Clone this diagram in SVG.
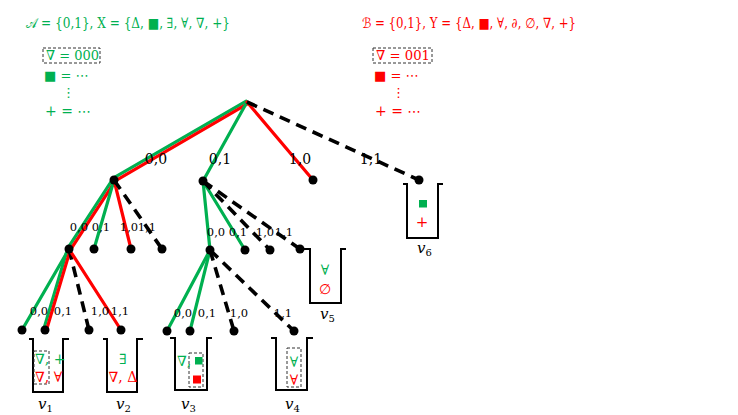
<svg xmlns="http://www.w3.org/2000/svg" width="738" height="415" viewBox="0 0 738 415">
<style>
.g{stroke:#00B050;stroke-width:3.2;fill:none;stroke-linecap:round}
.r{stroke:#FF0000;stroke-width:3.2;fill:none;stroke-linecap:round}
.d{stroke:#000;stroke-width:3.6;fill:none;stroke-dasharray:11 7}
.n{fill:#000}
.b{stroke:#000;stroke-width:2;fill:none}
.lab{font-family:"DejaVu Serif","Liberation Serif",serif;fill:#000;text-anchor:middle}
.l1{font-size:14px}
.l2{font-size:11.5px}
.gt{fill:#00B050;font-family:"DejaVu Serif","Liberation Serif","DejaVu Sans",serif}
.rt{fill:#FF0000;font-family:"DejaVu Serif","Liberation Serif","DejaVu Sans",serif}
.box{stroke:#333;stroke-width:1;stroke-dasharray:3 2;fill:none}
.v{font-family:"DejaVu Serif","Liberation Serif",serif;font-style:italic;font-size:15px;fill:#000}
</style>
<rect width="738" height="415" fill="#fff"/>
<g id="legend-A">
<text class="gt" x="26" y="28" font-size="14" textLength="204" lengthAdjust="spacingAndGlyphs">𝒜 = {0,1}, X = {Δ, ■, ∃, ∀, ∇, +}</text>
<rect class="box" x="43" y="48" width="57" height="15"/>
<text class="gt" x="46" y="60" font-size="13.5" textLength="53" lengthAdjust="spacingAndGlyphs">∇ = 000</text>
<text class="gt" x="44" y="80" font-size="13">■ = ⋯</text>
<text class="gt" x="62" y="97" font-size="13">⋮</text>
<text class="gt" x="45" y="116" font-size="14">+ = ⋯</text>
</g>
<g id="legend-B">
<text class="rt" x="362" y="28" font-size="14" textLength="214" lengthAdjust="spacingAndGlyphs">ℬ = {0,1}, Y = {Δ, ■, ∀, ∂, ∅, ∇, +}</text>
<rect class="box" x="373" y="48" width="59" height="15"/>
<text class="rt" x="376" y="60" font-size="13.5" textLength="54" lengthAdjust="spacingAndGlyphs">∇ = 001</text>
<text class="rt" x="374" y="80" font-size="13">■ = ⋯</text>
<text class="rt" x="392" y="97" font-size="13">⋮</text>
<text class="rt" x="375" y="116" font-size="14">+ = ⋯</text>
</g>
<g id="connectors">
<line class="g" x1="246.2" y1="101.2" x2="113.2" y2="178.2"/>
<line class="r" x1="247.8" y1="103.6" x2="114.8" y2="181.2"/>
<line class="g" x1="247" y1="102" x2="203" y2="181"/>
<line class="r" x1="247" y1="102" x2="313" y2="180"/>
<line class="d" x1="247" y1="102" x2="419" y2="180"/>
<line class="g" x1="112.8" y1="179.2" x2="67.8" y2="248.2"/>
<line class="r" x1="115.4" y1="180.9" x2="70.4" y2="249.9"/>
<line class="g" x1="114" y1="180" x2="94" y2="249"/>
<line class="r" x1="114" y1="180" x2="131" y2="249"/>
<line class="d" x1="114" y1="180" x2="162" y2="249"/>
<line class="g" x1="69" y1="249" x2="22" y2="330"/>
<line class="g" x1="67.6" y1="248.6" x2="43.6" y2="329.6"/>
<line class="r" x1="70.4" y1="249.4" x2="46.4" y2="330.4"/>
<line class="d" x1="69" y1="249" x2="89" y2="330"/>
<line class="r" x1="69" y1="249" x2="121" y2="330"/>
<line class="g" x1="203" y1="181" x2="210" y2="250"/>
<line class="g" x1="203" y1="181" x2="245" y2="250"/>
<line class="d" x1="203" y1="181" x2="270" y2="250"/>
<line class="d" x1="203" y1="181" x2="300" y2="249"/>
<line class="g" x1="210" y1="250" x2="167" y2="331"/>
<line class="g" x1="210" y1="250" x2="190" y2="331"/>
<line class="d" x1="210" y1="250" x2="234" y2="331"/>
<line class="d" x1="210" y1="250" x2="294" y2="331"/>
</g>
<g id="edge-labels" class="lab">
<text class="l1" x="156" y="164">0,0</text>
<text class="l1" x="220" y="164">0,1</text>
<text class="l1" x="300" y="164">1,0</text>
<text class="l1" x="371" y="164">1,1</text>
<text class="l2" x="79" y="231">0,0</text>
<text class="l2" x="101" y="231">0,1</text>
<text class="l2" x="129" y="231">1,0</text>
<text class="l2" x="147" y="231">1,1</text>
<text class="l2" x="216" y="236">0,0</text>
<text class="l2" x="238" y="236">0,1</text>
<text class="l2" x="265" y="236">1,0</text>
<text class="l2" x="284" y="236">1,1</text>
<text class="l2" x="39" y="315">0,0</text>
<text class="l2" x="63" y="315">0,1</text>
<text class="l2" x="100" y="315">1,0</text>
<text class="l2" x="120" y="315">1,1</text>
<text class="l2" x="183" y="317">0,0</text>
<text class="l2" x="207" y="317">0,1</text>
<text class="l2" x="239" y="317">1,0</text>
<text class="l2" x="283" y="317">1,1</text>
</g>
<g id="nodes">
<circle class="n" cx="114" cy="180" r="4.5"/>
<circle class="n" cx="203" cy="181" r="4.5"/>
<circle class="n" cx="313" cy="180" r="4.5"/>
<circle class="n" cx="419" cy="180" r="4.5"/>
<circle class="n" cx="69" cy="249" r="4.5"/>
<circle class="n" cx="94" cy="249" r="4.5"/>
<circle class="n" cx="131" cy="249" r="4.5"/>
<circle class="n" cx="162" cy="249" r="4.5"/>
<circle class="n" cx="210" cy="250" r="4.5"/>
<circle class="n" cx="245" cy="250" r="4.5"/>
<circle class="n" cx="270" cy="250" r="4.5"/>
<circle class="n" cx="300" cy="249" r="4.5"/>
<circle class="n" cx="22" cy="330" r="4.5"/>
<circle class="n" cx="45" cy="330" r="4.5"/>
<circle class="n" cx="89" cy="330" r="4.5"/>
<circle class="n" cx="121" cy="330" r="4.5"/>
<circle class="n" cx="167" cy="331" r="4.5"/>
<circle class="n" cx="190" cy="331" r="4.5"/>
<circle class="n" cx="234" cy="331" r="4.5"/>
<circle class="n" cx="294" cy="331" r="4.5"/>
</g>
<g id="v1">
<path class="b" d="M29,339 H33 V392 H63 V339 H69"/>
<rect class="box" x="34" y="351" width="15" height="33"/>
<text class="gt" x="35" y="364" font-size="14">∇, +</text>
<text class="rt" x="35" y="382" font-size="14">∇, ∀</text>
<text class="v" x="38" y="409">v<tspan font-size="10" dy="3" font-style="normal">1</tspan></text>
</g>
<g id="v2">
<path class="b" d="M103,339 H107 V392 H137 V339 H143"/>
<text class="gt" x="123" y="364" font-size="14" text-anchor="middle">∃</text>
<text class="rt" x="123" y="382" font-size="14" text-anchor="middle">∇, Δ</text>
<text class="v" x="116" y="409">v<tspan font-size="10" dy="3" font-style="normal">2</tspan></text>
</g>
<g id="v3">
<path class="b" d="M170,338 H175 V390 H207 V338 H212"/>
<rect class="box" x="189" y="353" width="14" height="34"/>
<text class="gt" x="177" y="366" font-size="14">∇,</text>
<rect x="195" y="357" width="7.5" height="7.5" fill="#00B050"/>
<rect x="193" y="375.5" width="8" height="8" fill="#FF0000"/>
<text class="v" x="181" y="409">v<tspan font-size="10" dy="3" font-style="normal">3</tspan></text>
</g>
<g id="v4">
<path class="b" d="M271,338 H276 V390 H307 V338 H313"/>
<rect class="box" x="287" y="348" width="14" height="39"/>
<text class="gt" x="294" y="367" font-size="14" text-anchor="middle">∀</text>
<text class="rt" x="294" y="385" font-size="14" text-anchor="middle">∀</text>
<text class="v" x="285" y="409">v<tspan font-size="10" dy="3" font-style="normal">4</tspan></text>
</g>
<g id="v5">
<path class="b" d="M304,249 H310 V303 H341 V249 H346"/>
<text class="gt" x="325" y="275" font-size="14" text-anchor="middle">∀</text>
<text class="rt" x="325" y="294" font-size="14" text-anchor="middle">∅</text>
<text class="v" x="320" y="319">v<tspan font-size="10" dy="3" font-style="normal">5</tspan></text>
</g>
<g id="v6">
<path class="b" d="M403,184 H407 V238 H438 V184 H443"/>
<rect x="419" y="200" width="8" height="7.5" fill="#00B050"/>
<text class="rt" x="422" y="227" font-size="15" text-anchor="middle">+</text>
<text class="v" x="417" y="253">v<tspan font-size="10" dy="3" font-style="normal">6</tspan></text>
</g>
</svg>
